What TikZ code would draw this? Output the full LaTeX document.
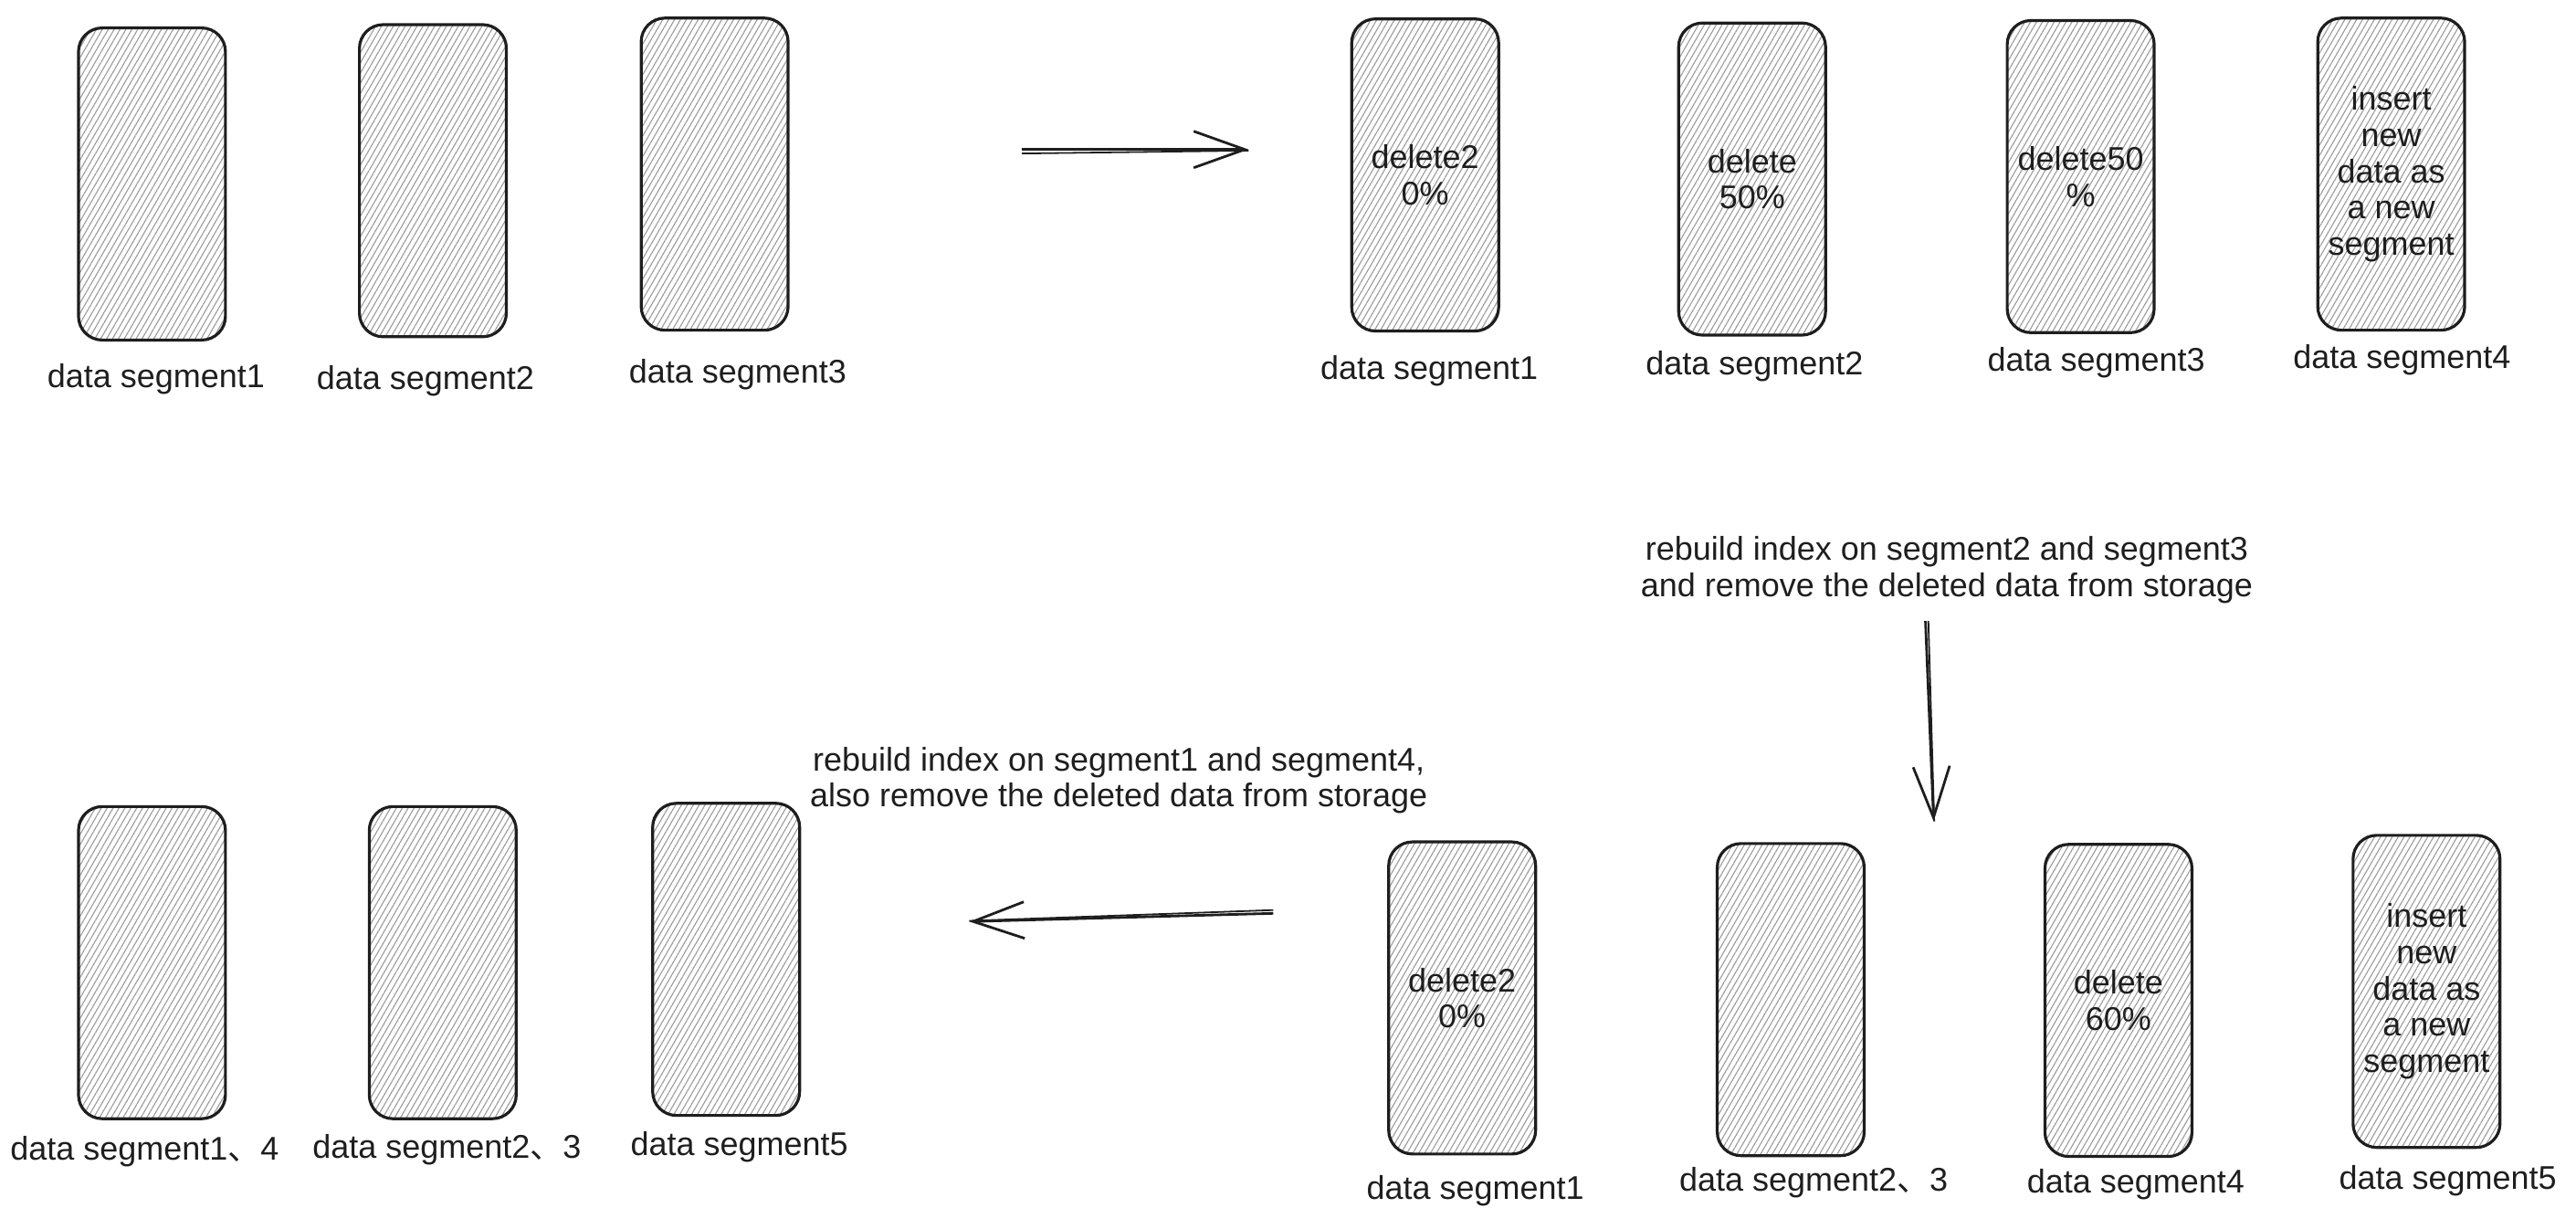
\documentclass[tikz,border=0pt]{standalone}
\usepackage{fontspec}
\setmainfont{Liberation Sans}
\newfontfamily\cjk{Noto Sans CJK SC}
\usetikzlibrary{patterns.meta,arrows.meta}
\definecolor{ink}{HTML}{1E1E1E}
\definecolor{hatch}{HTML}{9A9A9A}
\tikzset{
  seg/.style={draw=ink, line width=1.6pt, rounded corners=13pt,
    pattern={Lines[angle=60,distance=2.8pt,line width=0.55pt]}, pattern color=hatch,
    minimum width=80.5pt, minimum height=171pt, inner sep=0pt, align=center,
    font=\fontsize{18}{19.8}\selectfont, text=ink},
  lbl/.style={font=\fontsize{18}{19.8}\selectfont, text=ink, inner sep=0pt, align=center},
  flow/.style={draw=ink, line width=1.4pt, -{Straight Barb[length=28pt,width=20pt]}},
  rough/.style={draw=ink, line width=0.9pt}
}
\begin{document}
\begin{tikzpicture}[x=0.9pt,y=-0.9pt]
\useasboundingbox (0,0) rectangle (1568,748);
% top left
\node[seg] (b1) at (92.5,112) {};
\node[seg] (b2) at (263.5,110) {};
\node[seg] (b3) at (435,106) {};
\node[lbl] (l1) at (95,231) {data segment1};
\node[lbl] (l2) at (259,232) {data segment2};
\node[lbl] (l3) at (449,228) {data segment3};
% top right
\node[seg] (b4) at (867.5,106.5) {delete2\\0\%};
\node[seg] (b5) at (1066.5,109) {delete\\50\%};
\node[seg] (b6) at (1266.5,107.5) {delete50\\\%};
\node[seg] (b7) at (1455.5,106) {insert\\new\\data as\\a new\\segment};
\node[lbl] (l4) at (870,226) {data segment1};
\node[lbl] (l5) at (1068,223) {data segment2};
\node[lbl] (l6) at (1276,221) {data segment3};
\node[lbl] (l7) at (1462,219) {data segment4};
% bottom right
\node[seg] (b8) at (890,607.5) {delete2\\0\%};
\node[seg] (b9) at (1090,608.5) {};
\node[seg] (b10) at (1289.5,609) {delete\\60\%};
\node[seg] (b11) at (1477,603.5) {insert\\new\\data as\\a new\\segment};
\node[lbl] (l8) at (898,725) {data segment1};
\node[lbl] (l9) at (1104,720) {data segment2{\cjk 、}3};
\node[lbl] (l10) at (1300,721) {data segment4};
\node[lbl] (l11) at (1490,719) {data segment5};
% bottom left
\node[seg] (b12) at (92.5,586) {};
\node[seg] (b13) at (269.5,586) {};
\node[seg] (b14) at (442,584) {};
\node[lbl] (l12) at (88,701) {data segment1{\cjk 、}4};
\node[lbl] (l13) at (272,700) {data segment2{\cjk 、}3};
\node[lbl] (l14) at (450,698) {data segment5};
% notes
\node[lbl] (n1) at (1185,347) {rebuild index on segment2 and segment3\\and remove the deleted data from storage};
\node[lbl] (n2) at (681,475) {rebuild index on segment1 and segment4,\\also remove the deleted data from storage};
% arrows
\coordinate (a1s) at (622,91);
\coordinate (a1e) at (760,91);
\coordinate (a2s) at (1172,378);
\coordinate (a2e) at (1177,500);
\coordinate (a3s) at (775,556);
\coordinate (a3e) at (590,561);
\draw[flow] (a1s) -- (a1e);
\draw[rough] ([yshift=-2.2pt]a1s) -- ([yshift=-0.6pt]a1e);
\draw[flow] (a2s) -- (a2e);
\draw[rough] ([xshift=1.6pt]a2s) -- ([xshift=0.3pt]a2e);
\draw[flow] (a3s) -- (a3e);
\draw[rough] ([yshift=1.8pt]a3s) -- ([yshift=0.4pt]a3e);
\end{tikzpicture}
\end{document}
